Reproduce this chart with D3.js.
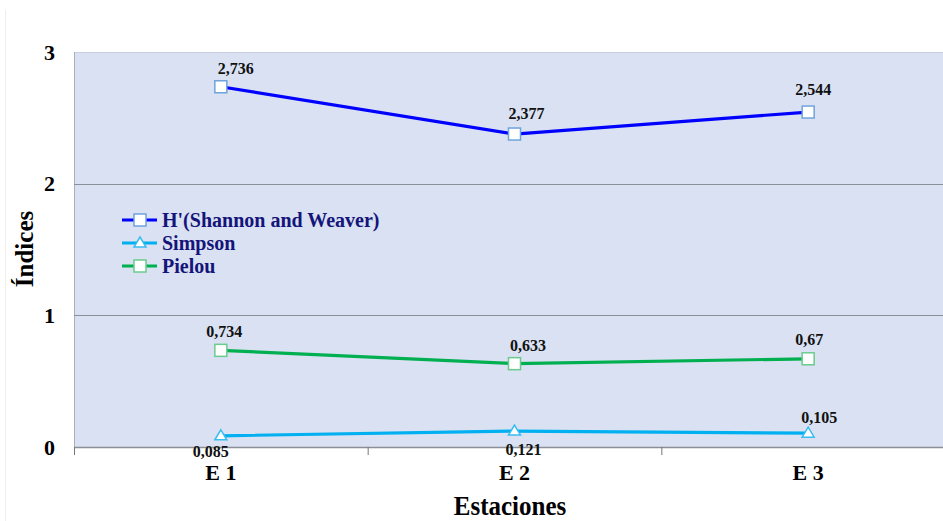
<!DOCTYPE html>
<html><head><meta charset="utf-8">
<script src="https://cdn.jsdelivr.net/npm/d3@7"></script>
<style>body{margin:0;background:#fff}svg{display:block}text{font-family:"Liberation Serif","Times New Roman",serif;font-weight:bold}</style>
</head><body><svg id="c" width="943" height="521"></svg>
<script>
const categories = ["E 1", "E 2", "E 3"];
const shannon = [2.736, 2.377, 2.544];
const simpson = [0.085, 0.121, 0.105];
const pielou = [0.734, 0.633, 0.67];
const shannonLabels = ["2,736", "2,377", "2,544"];
const simpsonLabels = ["0,085", "0,121", "0,105"];
const pielouLabels = ["0,734", "0,633", "0,67"];
const yTicks = [0, 1, 2, 3];
const seriesNames = ["H'(Shannon and Weaver)", "Simpson", "Pielou"];

(function () {
const svg = d3.select("#c");
const W = 943, H = 521;
const pL = 74, pR = 955, pT = 52, pB = 447;
const x = d3.scaleBand().domain(categories).range([pL, pR]);
const cx = d => x(d) + x.bandwidth() / 2;
const y = d3.scaleLinear().domain([0, 3]).range([pB, pT]);

svg.append("line").attr("x1", 5.5).attr("x2", 5.5).attr("y1", 10).attr("y2", H).attr("stroke", "#eeeeee");

svg.append("rect").attr("x", pL).attr("y", pT).attr("width", pR - pL).attr("height", pB - pT).attr("fill", "#D9E1F2");
svg.append("line").attr("x1", pL).attr("x2", pR).attr("y1", pT + 0.5).attr("y2", pT + 0.5).attr("stroke", "#c8cfdc");
svg.append("line").attr("x1", pL + 0.5).attr("x2", pL + 0.5).attr("y1", pT).attr("y2", pB).attr("stroke", "#a8b0c0");
svg.selectAll(".grid").data([1, 2]).enter().append("line")
  .attr("x1", pL).attr("x2", pR).attr("y1", d => Math.round(y(d)) + 0.5).attr("y2", d => Math.round(y(d)) + 0.5)
  .attr("stroke", "#8a8f9a").attr("stroke-width", 1);

const xAxis = d3.axisBottom(x).tickSize(0);
const gx = svg.append("g").attr("transform", `translate(0,${pB})`).call(xAxis);
gx.select(".domain").attr("stroke", "#8c8f96").attr("stroke-width", 1.5);
gx.selectAll("text").attr("font-size", 22).attr("fill", "#000").attr("font-family", "Liberation Serif")
  .attr("font-weight", "bold").attr("y", 33).attr("dy", 0);
const bounds = [pL, pL + x.bandwidth(), pL + 2 * x.bandwidth()];
svg.selectAll(".xt").data(bounds).enter().append("line")
  .attr("x1", d => d + 0.5).attr("x2", d => d + 0.5).attr("y1", pB).attr("y2", pB + 8).attr("stroke", "#777");

const yAxis = d3.axisLeft(y).tickValues(yTicks).tickSize(0).tickPadding(19).tickFormat(d3.format("d"));
const gy = svg.append("g").attr("transform", `translate(${pL},0)`).call(yAxis);
gy.select(".domain").remove();
gy.selectAll("text").attr("font-size", 22).attr("fill", "#000").attr("font-family", "Liberation Serif").attr("font-weight", "bold");

svg.append("text").attr("transform", "translate(510,515) scale(1,1.1)").attr("text-anchor", "middle").attr("font-size", 25).text("Estaciones");
svg.append("text").attr("transform", "translate(33,249) rotate(-90)").attr("text-anchor", "middle").attr("font-size", 25).text("Índices");

const line = d3.line().x((d, i) => cx(categories[i])).y(d => y(d));
const series = [
  {name: seriesNames[0], vals: shannon, labels: shannonLabels, color: "#0000FF", mstroke: "#6FA3DC", marker: "sq",
   off: [[15, -13], [12, -15], [5, -17]]},
  {name: seriesNames[1], vals: simpson, labels: simpsonLabels, color: "#00B0F0", mstroke: "#38BDF0", marker: "tri",
   off: [[-10, 21], [9, 24], [11, -10]]},
  {name: seriesNames[2], vals: pielou, labels: pielouLabels, color: "#00B050", mstroke: "#6ACB8C", marker: "sq",
   off: [[3.5, -13], [13.5, -13], [1, -14]]}
];

function drawMarker(g, type, px, py, stroke) {
  if (type === "sq") {
    g.append("rect").attr("x", px - 6).attr("y", py - 6).attr("width", 12).attr("height", 12)
      .attr("fill", "#fff").attr("stroke", stroke).attr("stroke-width", 1.5);
  } else {
    g.append("path").attr("d", `M${px},${py - 6}L${px + 6},${py + 4}L${px - 6},${py + 4}Z`)
      .attr("fill", "#fff").attr("stroke", stroke).attr("stroke-width", 1.5);
  }
}

series.forEach(s => {
  svg.append("path").datum(s.vals).attr("d", line).attr("fill", "none").attr("stroke", s.color).attr("stroke-width", 3.2);
});
series.forEach(s => {
  s.vals.forEach((v, i) => {
    const px = cx(categories[i]), py = y(v);
    drawMarker(svg, s.marker, px, py, s.mstroke);
    svg.append("text").attr("x", px + s.off[i][0]).attr("y", py + s.off[i][1]).attr("text-anchor", "middle")
      .attr("font-size", 16).attr("fill", "#111").text(s.labels[i]);
  });
});

const lg = svg.append("g");
series.forEach((s, i) => {
  const ly = 220 + i * 23;
  lg.append("line").attr("x1", 122).attr("x2", 157).attr("y1", ly).attr("y2", ly).attr("stroke", s.color).attr("stroke-width", 3.2);
  drawMarker(lg, s.marker, 140, ly, s.mstroke);
  lg.append("text").attr("x", 162).attr("y", ly + 6.5).attr("font-size", 20).attr("fill", "#14147A").text(s.name);
});
})();
</script></body></html>
